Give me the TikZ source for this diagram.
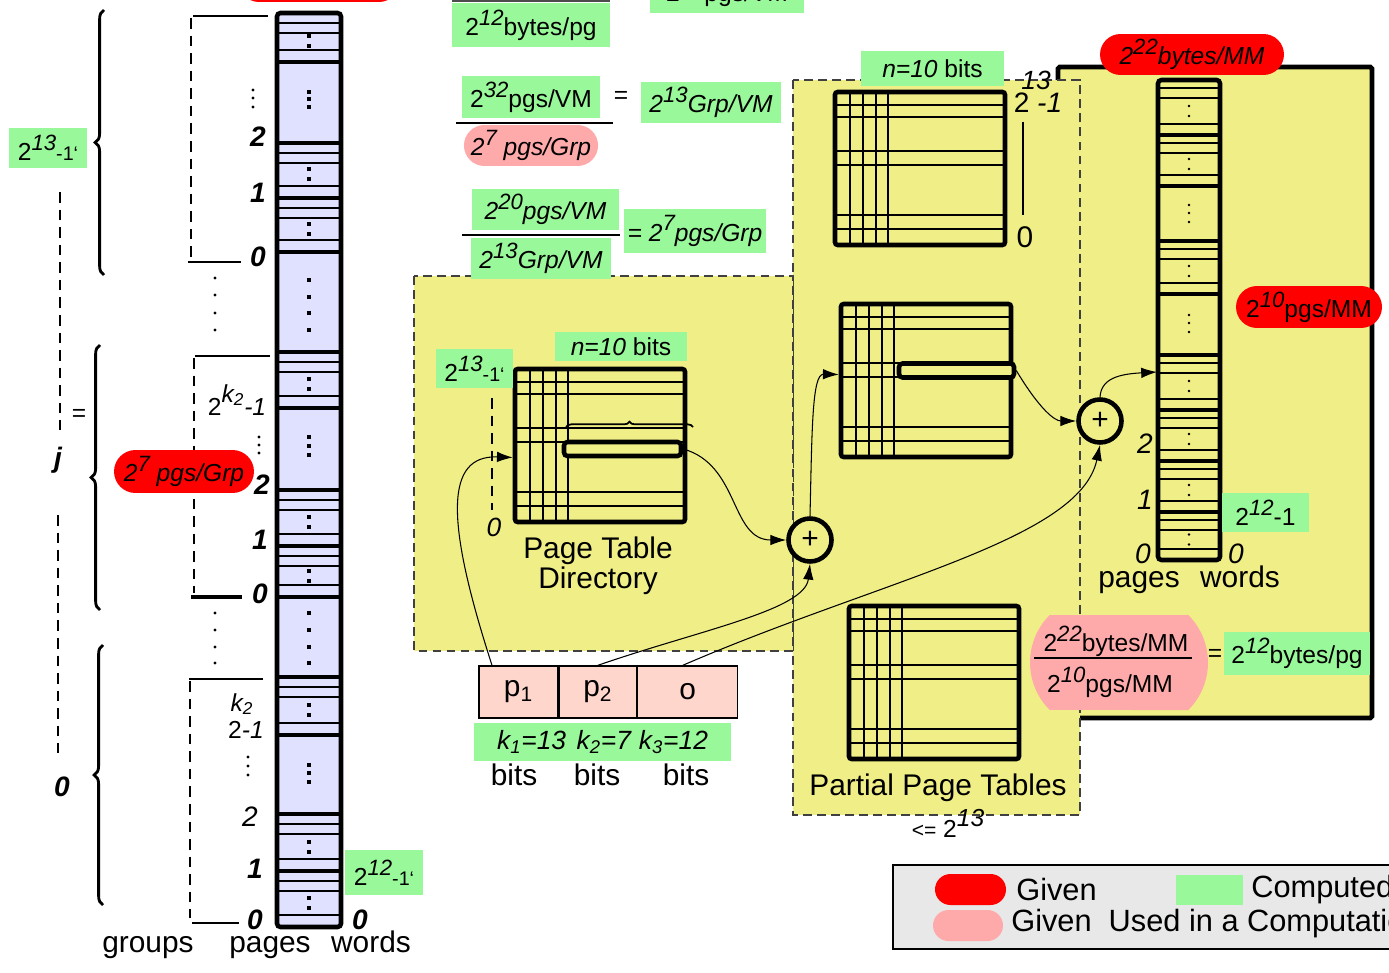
\documentclass[tikz,border=0pt]{standalone}
\usepackage{fontspec}
\setmainfont{Liberation Sans}
\usepackage{xcolor}
\usepackage{tikz}
\usetikzlibrary{positioning, shapes.misc, arrows.meta, decorations.pathreplacing}

\definecolor{givenred}{HTML}{FF0000}
\definecolor{usedpink}{HTML}{FFAAAA}
\definecolor{compgreen}{HTML}{99F899}
\definecolor{regionyellow}{HTML}{F0EE86}
\definecolor{memlav}{HTML}{E0E0FF}
\definecolor{addrpink}{HTML}{FFD6CC}
\definecolor{legendgray}{HTML}{E8E8E8}

\newcommand{\pw}[1]{2\raisebox{0.42em}{\scalebox{0.9}{\itshape #1}}}
\newcommand{\topidx}[1]{\pw{#1}\scalebox{0.8}{-1`}}

\begin{document}
\begin{tikzpicture}[
    x=0.02cm, y=-0.02cm,
    lbl/.style={inner sep=0pt, font=\fontsize{14}{16}\selectfont},
    big/.style={inner sep=0pt, font=\fontsize{17}{15}\selectfont},
    idx/.style={inner sep=0pt, font=\fontsize{16}{16}\selectfont\bfseries\itshape},
    given/.style={rounded rectangle, fill=givenred, inner sep=0pt, font=\fontsize{14}{16}\selectfont},
    used/.style={rounded rectangle, fill=usedpink, inner sep=0pt, font=\fontsize{14}{16}\selectfont},
    computed/.style={rectangle, fill=compgreen, inner sep=0pt, font=\fontsize{14}{16}\selectfont},
    addr/.style={rectangle, draw=black, line width=0.8pt, fill=addrpink, minimum height=1.04cm, inner sep=0pt, font=\fontsize{17}{17}\selectfont},
    sumnode/.style={circle, draw=black, line width=2.6pt, fill=regionyellow, minimum size=0.86cm, inner sep=0pt, font=\fontsize{17}{17}\selectfont},
    tableframe/.style={draw=black, line width=2.6pt, rounded corners=1.5pt, minimum width=3.4cm, minimum height=3.06cm, inner sep=0pt},
    rowbox/.style={draw=black, line width=2.6pt, rounded corners=2pt, fill=regionyellow, minimum height=0.28cm, inner sep=0pt},
    gridline/.style={line width=0.6pt},
    pagesep/.style={line width=2.6pt},
    dashregion/.style={fill=regionyellow, draw=black!75, line width=0.8pt, dash pattern=on 5pt off 3pt},
    dashline/.style={line width=0.6pt, dash pattern=on 6pt off 4pt},
    grpline/.style={line width=1.2pt},
    grpbrace/.style={decorate, decoration={brace, amplitude=5pt}, line width=1.6pt},
    fracbar/.style={line width=1.2pt},
    link/.style={-{Latex[length=9pt, width=6pt]}, line width=0.6pt},
    ptable/.pic={
        \foreach \xx in {15,28,41,53} \draw[gridline] (\xx,0) -- (\xx,153);
        \foreach \yy in {13,25,59,73,123,137} \draw[gridline] (0,\yy) -- (170,\yy);
        \node[tableframe] (-box) at (85,76.5) {};
    }
]
    \useasboundingbox (0,0) rectangle (1389,973);

    % Regions
    \filldraw[fill=regionyellow, draw=black, line width=2.8pt, rounded corners=1pt] (1058,67) rectangle (1372,718);
    \filldraw[dashregion] (793,80) rectangle (1080,815);
    \filldraw[dashregion] (414,276) rectangle (793,651);

    % Top fractions
    \node[given, minimum width=3.2cm, minimum height=0.8cm] (topgiven) at (319,-18) {};
    \draw[fracbar, black!70] (452,1) -- (610,1);
    \node[computed, minimum width=3.16cm, minimum height=0.88cm] (bpg) at (531,25) {\pw{12}bytes/pg};
    \node[computed, minimum width=3.1cm, minimum height=0.88cm] (topcomp) at (727,-9) {\pw{20}pgs/VM};

    \node[computed, minimum width=2.76cm, minimum height=0.84cm] (vm32) at (531,97) {\pw{32}pgs/VM};
    \draw[fracbar] (456,123) -- (613,123);
    \node[used, minimum width=2.68cm, minimum height=0.82cm, font=\fontsize{14}{16}\selectfont\itshape] (grp7a) at (531,145.5) {\pw{7} pgs/Grp};
    \node[lbl] (eq1) at (621,97) {=};
    \node[computed, minimum width=2.8cm, minimum height=0.82cm, font=\fontsize{14}{16}\selectfont\itshape] (grp13a) at (711,102.5) {\pw{13}Grp/VM};

    \node[computed, minimum width=2.94cm, minimum height=0.82cm, font=\fontsize{14}{16}\selectfont\itshape] (vm20) at (545.5,209.5) {\pw{20}pgs/VM};
    \draw[fracbar] (462,235) -- (620,235);
    \node[computed, minimum width=2.8cm, minimum height=0.82cm, font=\fontsize{14}{16}\selectfont\itshape] (grp13b) at (541,258.5) {\pw{13}Grp/VM};
    \node[computed, minimum width=2.84cm, minimum height=0.88cm, font=\fontsize{14}{16}\selectfont\itshape] (grp7b) at (695,231) {= \pw{7}pgs/Grp};

    % Virtual memory column
    \node[computed, minimum width=1.56cm, minimum height=0.8cm] (vm13) at (48,148) {\topidx{13}};
    \draw[dashline] (60,192) -- (60,430);
    \draw[dashline] (58,515) -- (58,753);
    \node[lbl] (jeq) at (79,415) {=};
    \node[idx] (jlbl) at (58,460) {j};
    \node[idx] (zerolbl) at (62,787) {0};

    \draw[grpbrace] (104,275) -- (104,10);
    \draw[grpbrace] (100,610) -- (100,345);
    \draw[grpbrace] (103,905) -- (103,645);

    \draw[grpline] (268,16) -- (193,16);
    \draw[dashline] (191,18) -- (191,260);
    \draw[grpline] (188,262) -- (241,262);
    \draw[grpline] (270,356) -- (195,356);
    \draw[dashline] (194,358) -- (194,593);
    \draw[grpline, line width=2pt] (191,597) -- (242,597);
    \draw[grpline] (263,679) -- (189,679);
    \draw[dashline] (190,681) -- (190,918);
    \draw[grpline] (192,923) -- (239,923);
    \foreach \y in {278,295,313,330,613,630,647,663} \fill (215,\y) circle (1.6);

    \filldraw[fill=memlav, line width=2.6pt, rounded corners=2pt] (277,13) rectangle (341,927);
    \foreach \t/\b in {13/62,143/198,198/252,352/408,490/546,546/597,677/735,814/871,871/927} {
        \draw[gridline] (279,\t+10) -- (339,\t+10) (279,\t+20) -- (339,\t+20) (279,\b-12) -- (339,\b-12);
        \fill (307,{(\t+\b+8)/2-7}) rectangle ++(4,4);
        \fill (307,{(\t+\b+8)/2+3}) rectangle ++(4,4);
    }
    \foreach \y in {62,143,198,252,352,408,490,546,597,677,735,814,871} \draw[pagesep] (279,\y) -- (339,\y);
    \foreach \y in {92,99,107,280,297,313,330,437,446,455,613,630,647,663,765,773,782} \fill (307,\y-2) rectangle ++(4,4);

    \foreach \y in {90,98,107} \fill (253,\y) circle (1.6);
    \foreach \y in {437,445,453} \fill (259,\y) circle (1.6);
    \foreach \y in {757,766,775} \fill (248,\y) circle (1.6);
    \node[idx] (g1two) at (258,137) {2};
    \node[idx] (g1one) at (258,193) {1};
    \node[idx] (g1zero) at (258,257) {0};
    \node[lbl] (g2max) at (237,400) {2\raisebox{0.55em}{\itshape k\textsubscript{2}}\textit{-1}};
    \node[idx] (g2two) at (262,485) {2};
    \node[idx] (g2one) at (260,540) {1};
    \node[idx] (g2zero) at (260,594) {0};
    \node[lbl, font=\fontsize{14}{16}\selectfont\itshape] (g3exp) at (242,704) {k\textsubscript{2}};
    \node[lbl] (g3max) at (246,730) {2\textit{-1}};
    \node[idx, font=\fontsize{16}{16}\selectfont\itshape] (g3two) at (250,817) {2};
    \node[idx] (g3one) at (255,869) {1};
    \node[idx] (g3zero) at (255,920) {0};
    \node[idx] (wordzero) at (360,920) {0};

    \node[given, minimum width=2.8cm, minimum height=0.86cm, font=\fontsize{14}{16}\selectfont\itshape] (grp7given) at (184,471.5) {\pw{7} pgs/Grp};
    \node[computed, minimum width=1.56cm, minimum height=0.9cm] (w12a) at (384,872.5) {\topidx{12}};
    \node[big, anchor=base] (groups) at (148,952) {groups};
    \node[big, anchor=base] (pages) at (270,952) {pages};
    \node[big, anchor=base] (words) at (371,952) {words};

    % Page table directory
    \pic (ptd) at (515,369) {ptable};
    \node[computed, minimum width=2.64cm, minimum height=0.58cm] (ptdbits) at (621,346.5) {\textit{n=10} bits};
    \node[computed, minimum width=1.54cm, minimum height=0.78cm] (ptdtop) at (474.5,368.5) {\topidx{13}};
    \draw[dashline] (492,398) -- (492,510);
    \node[lbl, font=\fontsize{15}{16}\selectfont\itshape] (ptdzero) at (494,527) {0};
    \draw[decorate, decoration={brace, amplitude=3pt}, line width=1pt] (566,427) -- (693,427);
    \node[rowbox, minimum width=2.34cm] (ptdrow) at (622.5,449) {};
    \node[big, align=center] (ptdname) at (598,566) {Page Table\\Directory};

    % Partial page tables
    \node[computed, minimum width=2.86cm, minimum height=0.7cm] (pptbits) at (932.5,68.5) {\textit{n=10} bits};
    \pic (pt1) at (835,92) {ptable};
    \pic (pt2) at (841,304) {ptable};
    \pic (pt3) at (849,606) {ptable};
    \node[lbl, font=\fontsize{15}{16}\selectfont\itshape] (pt1exp) at (1036,80) {13};
    \node[lbl, font=\fontsize{16}{16}\selectfont] (pt1max) at (1038,103) {2 \textit{-1}};
    \draw[gridline] (1023,122) -- (1023,215);
    \node[big] (pt1zero) at (1025,237) {0};
    \node[rowbox, minimum width=2.3cm] (pt2row) at (956.5,370.5) {};
    \node[big, anchor=base] (pptname) at (938,795) {Partial Page Tables};
    \node[lbl] (pptcount) at (948,823) {{\fontsize{12}{14}\selectfont <=} 2\raisebox{0.45em}{\itshape 13}};

    % Main memory
    \node[given, minimum width=3.68cm, minimum height=0.82cm, font=\fontsize{14}{16}\selectfont\itshape] (mmgiven) at (1192,54.5) {\pw{22}bytes/MM};
    \filldraw[fill=regionyellow, line width=2.6pt, rounded corners=2pt] (1158,80) rectangle (1220,560);
    \foreach \t/\b in {80/135,135/186,241/294,355/410,410/461,461/512,512/560} {
        \draw[gridline] (1160,\t+8) -- (1218,\t+8) (1160,\t+18) -- (1218,\t+18) (1160,\b-11) -- (1218,\b-11);
        \fill (1189,{(\t+\b+7)/2-5}) circle (1.4);
        \fill (1189,{(\t+\b+7)/2+5}) circle (1.4);
    }
    \foreach \y in {135,186,241,294,355,410,461,512} \draw[pagesep] (1160,\y) -- (1218,\y);
    \foreach \y in {205,213,222,315,323,332} \fill (1189,\y) circle (1.4);
    \coordinate (mmin) at (1157,372);
    \node[given, minimum width=2.92cm, minimum height=0.84cm] (pgsmm) at (1309,307) {\pw{10}pgs/MM};
    \node[lbl, font=\fontsize{16}{16}\selectfont\itshape] (mmtwo) at (1145,444) {2};
    \node[lbl, font=\fontsize{16}{16}\selectfont\itshape] (mmone) at (1145,500) {1};
    \node[lbl, font=\fontsize{16}{16}\selectfont\itshape] (mmzero) at (1143,554) {0};
    \node[lbl, font=\fontsize{16}{16}\selectfont\itshape] (mmwzero) at (1236,554) {0};
    \node[big, anchor=base] (mmpages) at (1139,587) {pages};
    \node[big, anchor=base] (mmwords) at (1240,587) {words};
    \node[computed, minimum width=1.74cm, minimum height=0.78cm] (w12b) at (1265.5,512.5) {\pw{12}-1};

    \node[used, rounded rectangle arc length=90, minimum width=3.56cm, minimum height=1.9cm] (mmfrac) at (1119,662.5) {};
    \node[lbl] (mmnum) at (1116,641) {\pw{22}bytes/MM};
    \draw[fracbar] (1034,658) -- (1192,658);
    \node[lbl] (mmden) at (1110,682) {\pw{10}pgs/MM};
    \node[lbl] (mmeq) at (1215,655) {=};
    \node[computed, minimum width=2.92cm, minimum height=0.86cm] (bpg2) at (1297,653.5) {\pw{12}bytes/pg};

    % Sums and address
    \node[sumnode] (sum1) at (810,540) {+};
    \node[sumnode] (sum2) at (1100,421) {+};
    \node[addr, minimum width=1.58cm] (p1) at (518.5,692) {p\textsubscript{1}};
    \node[addr, minimum width=1.54cm, right=0pt of p1] (p2) {p\textsubscript{2}};
    \node[addr, minimum width=2cm, right=0pt of p2] (off) {o};
    \node[computed, minimum width=5.14cm, minimum height=0.76cm, font=\fontsize{15}{15}\selectfont\itshape] (kbits) at (602.5,742) {k\textsubscript{1}=13\hspace{0.4em}k\textsubscript{2}=7\hspace{0.3em}k\textsubscript{3}=12};
    \node[big] (bits1) at (514,775) {bits};
    \node[big] (bits2) at (597,775) {bits};
    \node[big] (bits3) at (686,775) {bits};

    % Connectors
    \draw[link] ([xshift=-0.53cm]p1.north) .. controls (445,520) and (445,455) .. ([yshift=-0.24cm]ptd-box.west);
    \draw[link] (ptdrow.east) .. controls (740,465) and (730,540) .. (sum1.west);
    \draw[link] (sum1.north) .. controls (812,430) and (812,374) .. ([yshift=0.12cm]pt2-box.west);
    \draw[link] (p2.north) .. controls (700,630) and (805,610) .. (sum1.south);
    \draw[link] ([xshift=-0.1cm]off.north) .. controls (880,580) and (1080,540) .. (sum2.south);
    \draw[link] (pt2row.east) .. controls (1040,410) and (1055,421) .. (sum2.west);
    \draw[link] (sum2.north) .. controls (1101,378) and (1120,374) .. (mmin);

    % Legend
    \draw[line width=1.6pt, fill=legendgray] (893,865) rectangle (1420,949);
    \node[given, minimum width=1.42cm, minimum height=0.62cm] (lgred) at (970.5,889.5) {};
    \node[big, font=\fontsize{17.5}{18}\selectfont, anchor=west] (lggiven) at (1016,890) {Given};
    \node[computed, minimum width=1.34cm, minimum height=0.6cm] (lggreen) at (1209.5,890) {};
    \node[big, font=\fontsize{17.5}{18}\selectfont, anchor=west] (lgcomp) at (1251,890) {Computed};
    \node[used, minimum width=1.4cm, minimum height=0.62cm] (lgpink) at (968,925.5) {};
    \node[big, font=\fontsize{17.5}{18}\selectfont, anchor=west] (lgused) at (1011,924) {Given\ \ Used in a Computation};
\end{tikzpicture}
\end{document}
